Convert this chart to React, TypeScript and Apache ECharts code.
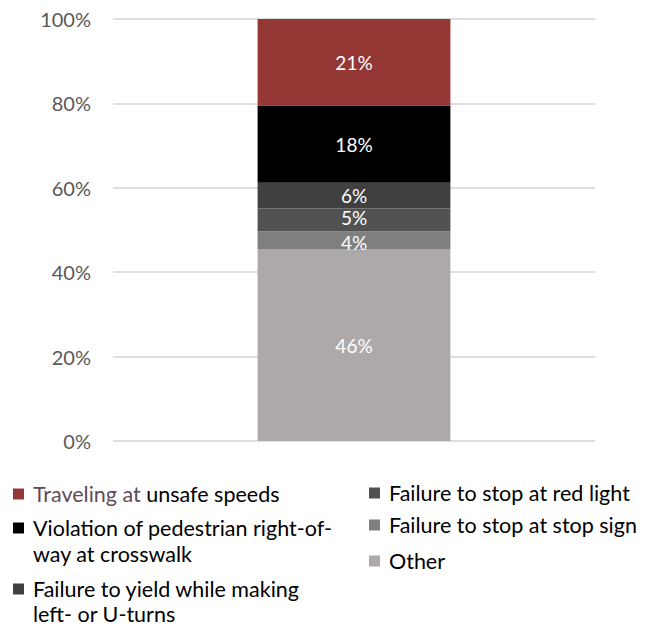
import React, { useEffect, useRef } from "react";
import * as echarts from "echarts";

const categories = ["All"];
const seriesNames = [
  "Other",
  "Failure to stop at stop sign",
  "Failure to stop at red light",
  "Failure to yield while making left- or U-turns",
  "Violation of pedestrian right-of-way at crosswalk",
  "Traveling at unsafe speeds",
];
const values = [45.4, 4.3, 5.4, 6.1, 18.3, 20.5];
const valueLabels = ["46%", "4%", "5%", "6%", "18%", "21%"];
const colors = ["#ADA9A8", "#7F7F7F", "#525252", "#404040", "#000000", "#953735"];
const yTicks = [0, 20, 40, 60, 80, 100];

const FONT = "Lato, 'Open Sans', sans-serif";
const LF = 21.5;

export default function App() {
  const ref = useRef<HTMLDivElement>(null);
  useEffect(() => {
    if (!ref.current) return;
    const chart = echarts.init(ref.current, undefined, { renderer: "svg" });

    const legendFirstLine: Record<string, string> = {
      "Traveling at unsafe speeds": "{a|Traveling at} unsafe speeds",
      "Violation of pedestrian right-of-way at crosswalk": "Violation of pedestrian right-of-",
      "Failure to yield while making left- or U-turns": "Failure to yield while making",
      "Failure to stop at red light": "Failure to stop at red light",
      "Failure to stop at stop sign": "Failure to stop at stop sign",
      Other: "Other",
    };
    const legendPos: Record<string, [number, number]> = {
      "Traveling at unsafe speeds": [8, 494],
      "Violation of pedestrian right-of-way at crosswalk": [8, 528],
      "Failure to yield while making left- or U-turns": [8, 589],
      "Failure to stop at red light": [364, 493],
      "Failure to stop at stop sign": [364, 525],
      Other: [364, 561],
    };
    const legends = Object.keys(legendPos).map((name) => ({
      data: [name],
      left: legendPos[name][0],
      top: legendPos[name][1] - 11 - 5,
      icon: "rect",
      itemWidth: 11,
      itemHeight: 11,
      selectedMode: false,
      formatter: () => legendFirstLine[name],
      textStyle: {
        fontSize: LF,
        lineHeight: 22,
        color: "#000000",
        fontFamily: FONT,
        padding: [0, 0, 0, 4],
        rich: {
          a: { color: "#5F4B58", fontSize: LF, lineHeight: 22, fontFamily: FONT },
        },
      },
    }));

    const labelOffsets: [number, number][] = [[0, 0], [0, 2], [0, -2], [0, 0], [0, 0], [0, 0]];

    chart.setOption({
      animation: false,
      grid: { left: 113, right: 55, top: 19, bottom: 186 },
      legend: legends,
      xAxis: {
        type: "category",
        data: categories,
        axisLine: { show: false },
        axisTick: { show: false },
        axisLabel: { show: false },
      },
      yAxis: {
        type: "value",
        min: yTicks[0],
        max: yTicks[yTicks.length - 1],
        interval: 20,
        axisLine: { show: false },
        axisTick: { show: false },
        axisLabel: {
          formatter: "{value}%",
          fontSize: 20,
          color: "#595959",
          fontFamily: FONT,
          margin: 22,
        },
        splitLine: { lineStyle: { color: "#DEDEDE", width: 2 } },
      },
      graphic: [
        {
          type: "text",
          left: 33,
          top: 554 - 11,
          style: { text: "way at crosswalk", fill: "#000000", font: `${LF}px ${FONT}`, lineHeight: 22 },
        },
        {
          type: "text",
          left: 33,
          top: 614 - 11,
          style: { text: "left- or U-turns", fill: "#000000", font: `${LF}px ${FONT}`, lineHeight: 22 },
        },
      ],
      series: seriesNames.map((name, i) => ({
        name,
        type: "bar",
        stack: "total",
        barWidth: "40%",
        data: [values[i]],
        itemStyle: { color: colors[i] },
        label: {
          show: true,
          position: "inside",
          offset: labelOffsets[i],
          formatter: () => valueLabels[i],
          color: "#FFFFFF",
          fontSize: 19,
          lineHeight: 18,
          fontFamily: FONT,
        },
      })),
    });
    return () => chart.dispose();
  }, []);
  return (
    <div
      ref={ref}
      style={{ position: "fixed", left: 0, top: 0, width: 650, height: 627, background: "#fff" }}
    />
  );
}
